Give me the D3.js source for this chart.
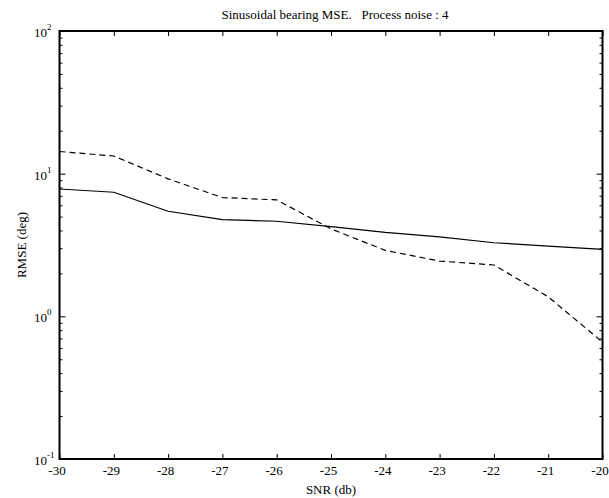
<!DOCTYPE html>
<html>
<head>
<meta charset="utf-8">
<script src="https://cdn.jsdelivr.net/npm/d3@7"></script>
<style>
  body { margin: 0; background: #fff; }
  svg text { font-family: "Liberation Serif", "Times New Roman", serif; fill: #000; }
</style>
</head>
<body>
<svg id="chart" width="609" height="498"></svg>
<script>
// SNR sweep (dB)
const snr = [-30, -29, -28, -27, -26, -25, -24, -23, -22, -21, -20];
// RMSE (deg) for the two estimators
const rmseSolid  = [7.81, 7.41, 5.45, 4.76, 4.64, 4.26, 3.88, 3.61, 3.28, 3.11, 2.95];
const rmseDashed = [14.3, 13.3, 9.2, 6.8, 6.55, 4.1, 2.9, 2.44, 2.29, 1.37, 0.66];
// Axis ticks
const xTicks = [-30, -29, -28, -27, -26, -25, -24, -23, -22, -21, -20];
const yMajor = [0.1, 1, 10, 100];
const yExponents = ["-1", "0", "1", "2"];

const titleText = "Sinusoidal bearing MSE.   Process noise : 4";
const xLabel = "SNR (db)";
const yLabel = "RMSE (deg)";

const svg = d3.select("#chart");
const m = { left: 59.5, right: 602.5, top: 31, bottom: 459 };

const x = d3.scaleLinear().domain([-30, -20]).range([m.left, m.right]);
const y = d3.scaleLog().domain([0.1, 100]).range([m.bottom, m.top]);

// minor log ticks 2..9 within each decade
const yMinor = [];
for (let d = 0; d < 3; d++) {
  const base = yMajor[d];
  for (let k = 2; k <= 9; k++) yMinor.push(base * k);
}

const fs = 13;

// x axes (bottom + top), ticks pointing inward
svg.append("g")
  .attr("transform", `translate(0,${m.bottom})`)
  .call(d3.axisBottom(x).tickValues(xTicks).tickSize(-5).tickPadding(7).tickFormat(d => String(d)))
  .call(g => g.select(".domain").remove())
  .call(g => g.selectAll("text").attr("font-size", fs).attr("font-family", "Liberation Serif").attr("dx", -3))
  .call(g => g.selectAll("line").attr("stroke", "#000"));

svg.append("g")
  .attr("transform", `translate(0,${m.top})`)
  .call(d3.axisTop(x).tickValues(xTicks).tickSize(-5).tickFormat(""))
  .call(g => g.select(".domain").remove());

// y axes: major ticks
svg.append("g")
  .attr("transform", `translate(${m.left},0)`)
  .call(d3.axisLeft(y).tickValues(yMajor).tickSize(-6).tickFormat(""))
  .call(g => g.select(".domain").remove());

svg.append("g")
  .attr("transform", `translate(${m.right},0)`)
  .call(d3.axisRight(y).tickValues(yMajor).tickSize(-6).tickFormat(""))
  .call(g => g.select(".domain").remove());

// y axes: minor ticks
svg.append("g")
  .attr("transform", `translate(${m.left},0)`)
  .call(d3.axisLeft(y).tickValues(yMinor).tickSize(-3).tickFormat(""))
  .call(g => g.select(".domain").remove());

svg.append("g")
  .attr("transform", `translate(${m.right},0)`)
  .call(d3.axisRight(y).tickValues(yMinor).tickSize(-3).tickFormat(""))
  .call(g => g.select(".domain").remove());

// y tick labels: 10 with superscript exponent
yMajor.forEach((v, i) => {
  const t = svg.append("text")
    .attr("x", 34)
    .attr("y", y(v) + 6)
    .attr("text-anchor", "start")
    .attr("font-size", fs);
  t.append("tspan").text("10");
  t.append("tspan")
    .attr("font-size", 9)
    .attr("dy", -7)
    .text(yExponents[i]);
});

// plot lines
const line = d3.line()
  .x((d, i) => x(snr[i]))
  .y(d => y(d));

svg.append("clipPath").attr("id", "plotclip")
  .append("rect")
  .attr("x", m.left).attr("y", m.top)
  .attr("width", m.right - m.left).attr("height", m.bottom - m.top);

svg.append("path")
  .datum(rmseSolid)
  .attr("clip-path", "url(#plotclip)")
  .attr("fill", "none")
  .attr("stroke", "#000")
  .attr("stroke-width", 1.2)
  .attr("d", line);

svg.append("path")
  .datum(rmseDashed)
  .attr("clip-path", "url(#plotclip)")
  .attr("fill", "none")
  .attr("stroke", "#000")
  .attr("stroke-width", 1.2)
  .attr("stroke-dasharray", "6,4")
  .attr("d", line);

// frame
svg.append("rect")
  .attr("x", m.left).attr("y", m.top)
  .attr("width", m.right - m.left).attr("height", m.bottom - m.top)
  .attr("fill", "none")
  .attr("stroke", "#000")
  .attr("stroke-width", 2);

// title and axis labels
svg.append("text")
  .attr("x", (m.left + m.right) / 2 + 4)
  .attr("y", 19)
  .attr("text-anchor", "middle")
  .attr("font-size", fs)
  .style("white-space", "pre")
  .text(titleText);

svg.append("text")
  .attr("x", (m.left + m.right) / 2)
  .attr("y", 494)
  .attr("text-anchor", "middle")
  .attr("font-size", fs)
  .text(xLabel);

svg.append("text")
  .attr("transform", `translate(26,${(m.top + m.bottom) / 2}) rotate(-90)`)
  .attr("text-anchor", "middle")
  .attr("font-size", fs)
  .text(yLabel);
</script>
</body>
</html>
